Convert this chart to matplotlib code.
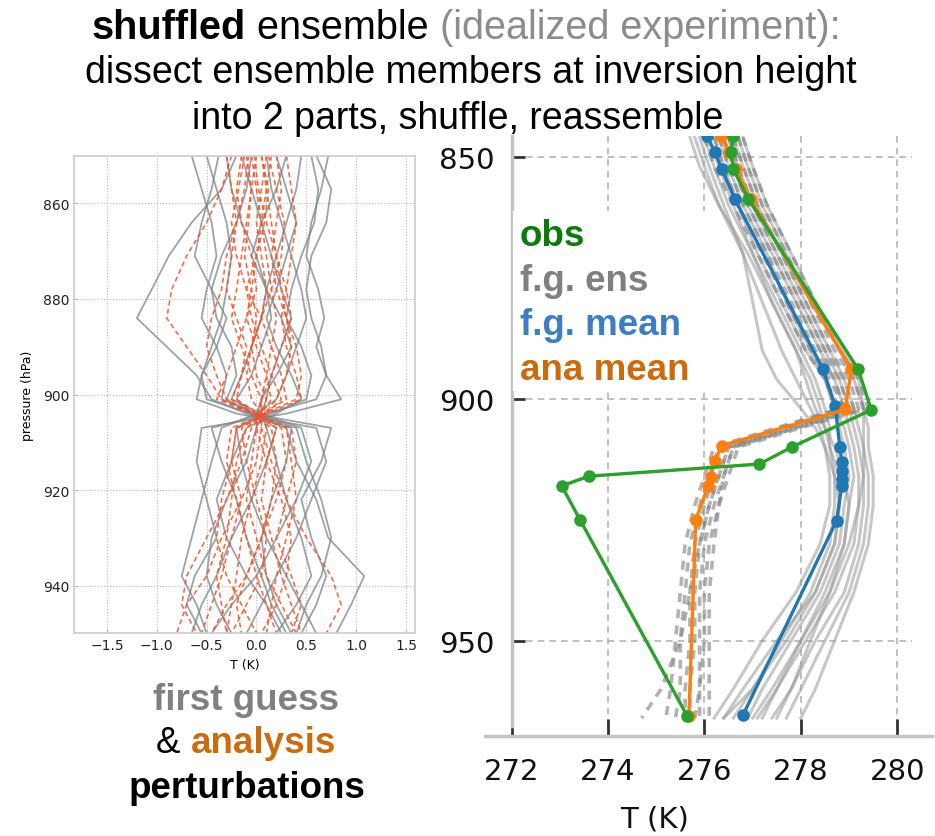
import numpy as np
import matplotlib
matplotlib.use('Agg')
import matplotlib.pyplot as plt
from matplotlib import font_manager
from matplotlib.patches import Rectangle

# ---- left panel: perturbation profiles (K) on pressure levels (hPa)
p_pert = [850, 857, 864, 871, 878, 884, 890, 896, 901, 904, 907, 914, 922, 930, 938, 944, 950]

fg_pert = [
    [-0.38, -0.45, -0.55, -0.62, -0.45, -0.30, -0.40, -0.55, -0.60, -0.20, 0.60, 0.70, 0.55, 0.40, 0.20, 0.05, -0.10],
    [0.72, 0.65, 0.55, 0.50, 0.62, 0.68, 0.60, 0.70, 0.85, 0.30, -0.55, -0.60, -0.50, -0.40, -0.62, -0.70, -0.55],
    [-0.20, -0.35, -0.65, -0.88, -1.05, -1.20, -0.90, -0.60, -0.45, -0.10, 0.30, 0.40, 0.60, 0.72, 1.08, 0.95, 0.80],
    [0.45, 0.40, 0.30, 0.20, 0.10, 0.05, -0.05, -0.15, -0.25, 0.05, 0.45, 0.55, 0.40, 0.20, 0.00, -0.25, -0.45],
    [-0.50, -0.40, -0.30, -0.25, -0.30, -0.35, -0.45, -0.55, -0.50, -0.05, 0.75, 0.65, 0.45, 0.55, 0.70, 0.60, 0.45],
    [0.10, 0.15, 0.25, 0.35, 0.45, 0.50, 0.40, 0.30, 0.20, 0.00, -0.35, -0.45, -0.55, -0.65, -0.75, -0.60, -0.50],
    [0.55, 0.62, 0.58, 0.45, 0.35, 0.30, 0.45, 0.55, 0.50, 0.15, -0.20, -0.15, -0.05, 0.10, 0.30, 0.45, 0.60],
    [-0.05, -0.10, -0.20, -0.35, -0.45, -0.40, -0.25, -0.20, -0.30, -0.05, 0.20, 0.10, -0.05, -0.25, -0.40, -0.55, -0.65],
    [0.30, 0.20, 0.05, -0.05, 0.10, 0.25, 0.35, 0.20, 0.05, 0.00, 0.00, -0.10, -0.30, -0.45, -0.50, -0.40, -0.25],
    [-0.30, -0.25, -0.15, 0.00, 0.10, 0.15, 0.05, -0.05, -0.20, -0.05, 0.35, 0.30, 0.15, 0.05, 0.10, 0.20, 0.35],
    [0.60, 0.75, 0.70, 0.55, 0.50, 0.55, 0.65, 0.70, 0.60, 0.10, -0.45, -0.35, -0.20, -0.10, 0.05, 0.15, 0.30],
    [-0.65, -0.55, -0.45, -0.40, -0.50, -0.55, -0.40, -0.30, -0.35, 0.00, 0.40, 0.50, 0.65, 0.75, 0.65, 0.50, 0.40],
    [0.20, 0.30, 0.40, 0.30, 0.20, 0.10, 0.20, 0.35, 0.45, 0.20, -0.10, -0.25, -0.40, -0.30, -0.10, 0.10, 0.25],
    [-0.15, -0.05, 0.05, 0.15, 0.25, 0.35, 0.25, 0.15, 0.10, 0.05, 0.10, 0.20, 0.30, 0.45, 0.55, 0.40, 0.20],
]

ana_pert = [
    [-0.10, -0.05, -0.08, -0.12, -0.05, 0.00, -0.05, -0.10, -0.05, 0.05, 0.10, 0.05, -0.05, -0.15, -0.20, -0.25, -0.30],
    [0.05, 0.10, 0.15, 0.20, 0.25, 0.30, 0.35, 0.30, 0.20, 0.08, -0.10, -0.20, -0.25, -0.30, -0.40, -0.35, -0.30],
    [-0.25, -0.35, -0.50, -0.70, -0.85, -0.90, -0.70, -0.50, -0.35, -0.05, 0.15, 0.20, 0.15, 0.05, -0.10, -0.20, -0.15],
    [0.15, 0.10, 0.05, 0.00, -0.05, -0.10, 0.00, 0.10, 0.15, 0.05, -0.05, -0.15, -0.30, -0.50, -0.70, -0.75, -0.60],
    [-0.05, 0.00, 0.05, 0.10, 0.15, 0.20, 0.15, 0.10, 0.05, 0.02, 0.05, 0.15, 0.30, 0.50, 0.75, 0.85, 0.70],
    [0.30, 0.35, 0.40, 0.35, 0.30, 0.25, 0.30, 0.40, 0.45, 0.10, -0.25, -0.30, -0.20, -0.10, 0.00, 0.10, 0.20],
    [-0.15, -0.20, -0.15, -0.05, 0.00, -0.10, -0.20, -0.30, -0.40, -0.05, 0.30, 0.35, 0.40, 0.30, 0.20, 0.15, 0.10],
    [0.00, -0.05, -0.10, -0.15, -0.20, -0.25, -0.15, -0.05, 0.05, 0.05, 0.00, -0.05, -0.10, 0.00, 0.10, 0.25, 0.40],
    [0.20, 0.25, 0.20, 0.15, 0.20, 0.30, 0.40, 0.45, 0.40, 0.08, -0.20, -0.25, -0.15, -0.25, -0.35, -0.45, -0.55],
    [-0.30, -0.25, -0.20, -0.25, -0.30, -0.20, -0.10, -0.15, -0.25, 0.00, 0.20, 0.10, 0.05, 0.15, 0.25, 0.35, 0.45],
    [0.10, 0.05, 0.00, 0.05, 0.10, 0.05, -0.05, -0.15, -0.20, 0.02, 0.25, 0.30, 0.20, 0.05, -0.10, -0.30, -0.45],
    [-0.08, -0.12, -0.20, -0.30, -0.35, -0.45, -0.50, -0.40, -0.30, -0.02, 0.35, 0.40, 0.30, 0.20, 0.35, 0.45, 0.35],
    [0.05, 0.12, 0.08, 0.00, -0.10, -0.05, 0.05, 0.15, 0.25, 0.10, -0.15, -0.10, 0.00, 0.10, 0.05, -0.10, -0.25],
    [-0.02, 0.02, 0.10, 0.20, 0.30, 0.35, 0.25, 0.15, 0.05, 0.05, 0.05, 0.00, -0.15, -0.35, -0.50, -0.70, -0.80],
    [0.12, 0.20, 0.28, 0.25, 0.15, 0.05, -0.05, 0.00, 0.10, 0.06, 0.00, 0.10, 0.25, 0.35, 0.30, 0.20, 0.05],
    [-0.12, -0.18, -0.25, -0.20, -0.10, 0.05, 0.15, 0.25, 0.30, 0.06, -0.20, -0.25, -0.35, -0.40, -0.30, -0.15, 0.00],
]

pert_xticks = [-1.5, -1.0, -0.5, 0.0, 0.5, 1.0, 1.5]
pert_yticks = [860, 880, 900, 920, 940]

# ---- right panel: absolute temperature profiles (K)
p_ens = [846, 852, 860, 870, 880, 890, 896, 902, 906, 910, 916, 922, 930, 940, 950, 960, 966]

fg_ens = [
    [276.0, 276.2, 276.5, 277.0, 277.5, 278.0, 278.3, 278.5, 278.6, 278.6, 278.7, 278.7, 278.6, 278.2, 277.6, 277.0, 276.6],
    [276.4, 276.6, 276.9, 277.4, 277.9, 278.4, 278.7, 278.9, 279.0, 279.1, 279.2, 279.2, 279.1, 278.7, 278.1, 277.5, 277.1],
    [275.7, 275.9, 276.3, 276.8, 277.2, 277.6, 277.9, 278.2, 278.4, 278.5, 278.6, 278.6, 278.4, 277.9, 277.2, 276.6, 276.2],
    [276.6, 276.8, 277.1, 277.6, 278.1, 278.6, 278.9, 279.1, 279.2, 279.3, 279.4, 279.4, 279.3, 279.0, 278.5, 278.0, 277.7],
    [276.2, 276.4, 276.7, 277.1, 277.6, 278.1, 278.5, 278.7, 278.8, 278.9, 279.0, 278.9, 278.8, 278.4, 277.8, 277.2, 276.9],
    [275.9, 276.1, 276.4, 276.8, 277.0, 277.2, 277.5, 278.0, 278.3, 278.5, 278.7, 278.8, 278.7, 278.3, 277.5, 276.8, 276.4],
    [276.5, 276.7, 277.0, 277.5, 278.0, 278.5, 278.8, 279.0, 279.1, 279.2, 279.3, 279.3, 279.2, 278.9, 278.3, 277.8, 277.4],
    [276.3, 276.5, 276.8, 277.3, 277.7, 278.2, 278.5, 278.7, 278.9, 279.0, 279.1, 279.0, 278.9, 278.5, 278.0, 277.4, 277.0],
    [276.7, 276.9, 277.2, 277.7, 278.2, 278.8, 279.1, 279.3, 279.4, 279.4, 279.5, 279.5, 279.4, 279.1, 278.7, 278.3, 278.0],
    [276.1, 276.3, 276.6, 277.0, 277.4, 277.9, 278.2, 278.4, 278.5, 278.6, 278.8, 278.8, 278.7, 278.3, 277.7, 277.0, 276.4],
    [276.8, 277.0, 277.3, 277.8, 278.3, 278.9, 279.2, 279.3, 279.3, 279.3, 279.3, 279.2, 279.0, 278.6, 278.0, 277.5, 277.2],
    [275.8, 276.0, 276.3, 276.9, 277.4, 277.9, 278.1, 278.3, 278.5, 278.7, 278.9, 279.0, 278.9, 278.6, 278.2, 277.8, 277.5],
]

ana_ens = [
    [276.3, 276.5, 276.8, 277.3, 277.8, 278.3, 278.7, 278.9, 277.6, 276.4, 276.2, 276.0, 275.8, 275.7, 275.7, 275.6, 275.6],
    [276.6, 276.8, 277.1, 277.6, 278.1, 278.6, 279.0, 279.2, 277.9, 276.6, 276.4, 276.2, 276.0, 275.9, 275.9, 275.9, 275.8],
    [276.0, 276.2, 276.6, 277.1, 277.6, 278.1, 278.5, 278.8, 277.5, 276.2, 276.0, 275.8, 275.6, 275.5, 275.4, 275.3, 275.2],
    [276.8, 277.0, 277.3, 277.8, 278.3, 278.8, 279.2, 279.4, 278.0, 276.7, 276.5, 276.3, 276.2, 276.1, 276.1, 276.1, 276.1],
    [276.4, 276.6, 276.9, 277.4, 277.9, 278.4, 278.8, 279.0, 277.7, 276.5, 276.3, 276.1, 275.9, 275.8, 275.8, 275.7, 275.7],
    [276.2, 276.4, 276.7, 277.2, 277.7, 278.2, 278.6, 278.9, 277.6, 276.3, 276.1, 275.9, 275.7, 275.6, 275.5, 275.5, 275.4],
    [276.7, 276.9, 277.2, 277.7, 278.2, 278.7, 279.1, 279.3, 277.9, 276.6, 276.4, 276.3, 276.1, 276.0, 276.0, 275.9, 275.9],
    [276.5, 276.7, 277.0, 277.5, 278.0, 278.5, 278.9, 279.1, 277.8, 276.5, 276.3, 276.1, 275.9, 275.7, 275.5, 275.1, 274.7],
]

p_obs = [845.7, 849.1, 852.5, 858.7, 893.9, 902.3, 910.0, 913.5, 916.0, 918.0, 925.0, 965.5]
t_obs = [276.60, 276.56, 276.60, 276.91, 279.19, 279.46, 277.81, 277.14, 273.61, 273.04, 273.42, 275.64]

p_fg = [845.7, 849.1, 852.5, 858.7, 893.9, 901.4, 910.0, 913.1, 914.9, 916.6, 918.0, 925.2, 965.4]
t_fg = [276.05, 276.22, 276.36, 276.63, 278.46, 278.71, 278.81, 278.85, 278.85, 278.85, 278.85, 278.74, 276.80]

p_ana = [845.7, 849.1, 852.5, 858.7, 893.9, 902.2, 909.7, 912.8, 916.2, 918.0, 925.0, 965.5]
t_ana = [276.35, 276.50, 276.65, 276.96, 279.05, 278.92, 276.36, 276.22, 276.13, 276.08, 275.82, 275.68]

ens_xticks = [272, 274, 276, 278, 280]
ens_yticks = [850, 900, 950]

C_OBS, C_FG, C_ANA = '#2ca02c', '#1f77b4', '#ff7f0e'

W, H = 935, 837
fig = plt.figure(figsize=(W / 100, H / 100), dpi=100)

installed = {f.name for f in font_manager.fontManager.ttflist}
narrow = 'Liberation Sans Narrow' if 'Liberation Sans Narrow' in installed else 'DejaVu Sans'
big = 27 if narrow != 'DejaVu Sans' else 21
SANS = 'Liberation Sans'


def box(x0, y0, x1, y1):
    # pixel box (from top-left) -> figure fraction rect
    return [x0 / W, 1 - y1 / H, (x1 - x0) / W, (y1 - y0) / H]


# ---------------- left: perturbations
axl = fig.add_axes(box(74, 156.7, 415, 634.3))
for m in fg_pert:
    axl.plot(m, p_pert, color='#7d858b', lw=1.3, alpha=0.75)
for m in ana_pert:
    axl.plot(m, p_pert, color='#f0552a', lw=1.2, ls=(0, (3, 2)), alpha=0.85)
axl.set_xlim(-1.83, 1.59)
axl.set_ylim(950, 850)
axl.set_xticks(pert_xticks)
axl.set_yticks(pert_yticks)
axl.grid(True, ls=':', color='#b8b8b8', lw=0.8)
axl.set_axisbelow(True)
for s in axl.spines.values():
    s.set_color('#cccccc')
    s.set_linewidth(1.2)
axl.tick_params(direction='in', length=3, color='#bbbbbb', labelsize=10, labelcolor='#222222')
axl.set_xlabel('T (K)', fontsize=9, labelpad=4)
axl.set_ylabel('pressure (hPa)', fontsize=9, labelpad=6)

# ---------------- right: profiles
axr = fig.add_axes(box(485, 137, 932, 737))
axr.set_xlim(271.45, 280.72)
axr.set_ylim(969.7, 845.7)
axr.vlines(ens_xticks[1:], 845.7, 967.6, colors='#b5b5b5', linestyles=(0, (4, 3)), lw=1.2, zorder=0)
axr.hlines(ens_yticks, 272.3, 280.3, colors='#b5b5b5', linestyles=(0, (4, 3)), lw=1.2, zorder=0)

for m in fg_ens:
    axr.plot(m, p_ens, color='#999999', lw=2.2, alpha=0.55)
for m in ana_ens:
    axr.plot(m, p_ens, color='#808080', lw=2.6, alpha=0.6, ls=(0, (2.5, 2)))

axr.plot(t_fg, p_fg, color=C_FG, lw=2.4, marker='o', ms=8)
axr.plot(t_ana, p_ana, color=C_ANA, lw=2.4, marker='o', ms=8)
axr.plot(t_obs, p_obs, color=C_OBS, lw=2.4, marker='o', ms=8)

axr.spines['top'].set_visible(False)
axr.spines['right'].set_visible(False)
axr.spines['left'].set_position(('data', 272))
axr.spines['left'].set_bounds(845.7, 967.6)
for s in ('left', 'bottom'):
    axr.spines[s].set_color('#c4c4c4')
    axr.spines[s].set_linewidth(2.5)
axr.set_xticks(ens_xticks)
axr.set_yticks(ens_yticks)
axr.tick_params(direction='in', width=2, color='#333333', labelcolor='#111111')
axr.tick_params(axis='x', length=12, pad=15)
axr.tick_params(axis='y', length=9, pad=12)
for lab in axr.get_xticklabels() + axr.get_yticklabels():
    lab.set_fontfamily(narrow)
    lab.set_fontsize(big)
axr.set_xlabel('T (K)', fontsize=big, family=narrow, color='#111111')
axr.xaxis.set_label_coords(0.38, -0.115)

# legend block on a white patch
fig.patches.append(Rectangle((513 / W, 1 - 392 / H), 192 / W, 180 / H,
                             transform=fig.transFigure, facecolor='white', edgecolor='none', zorder=1))
legend_items = [('obs', '#0a7a0a', 246.5), ('f.g. ens', '#808080', 291),
                ('f.g. mean', '#3d7dc4', 335.5), ('ana mean', '#cc6a0e', 380)]
for label, col, yb in legend_items:
    fig.text(520 / W, 1 - yb / H, label, color=col, fontsize=26.5, fontweight='bold',
             family=SANS, va='baseline', zorder=3)


def rich_line(parts, xc, yb):
    # place coloured/bold pieces side by side, centred at xc (px), baseline yb (px)
    texts = [fig.text(0, 1 - yb / H, s, va='baseline', family=SANS, **kw) for s, kw in parts]
    r = fig.canvas.get_renderer()
    widths = [t.get_window_extent(r).width for t in texts]
    x = xc - sum(widths) / 2
    for t, w in zip(texts, widths):
        t.set_x(x / W)
        x += w


rich_line([('shuffled', dict(fontsize=28.5, fontweight='bold', color='black')),
           (' ensemble', dict(fontsize=28.5, color='black')),
           (' (idealized experiment):', dict(fontsize=28.5, color='#8c8c8c'))], 466, 39.3)
rich_line([('dissect ensemble members at inversion height', dict(fontsize=27, color='black'))], 470.5, 83.3)
rich_line([('into 2 parts, shuffle, reassemble', dict(fontsize=27, color='black'))], 457.5, 129.3)

rich_line([('first guess', dict(fontsize=26.5, fontweight='bold', color='#808080'))], 246, 710)
rich_line([('& ', dict(fontsize=26.5, color='black')),
           ('analysis', dict(fontsize=26.5, fontweight='bold', color='#cc6a0e'))], 246, 753)
rich_line([('perturbations', dict(fontsize=26.5, fontweight='bold', color='black'))], 246.5, 798)

fig.savefig('out.png', dpi=100)
